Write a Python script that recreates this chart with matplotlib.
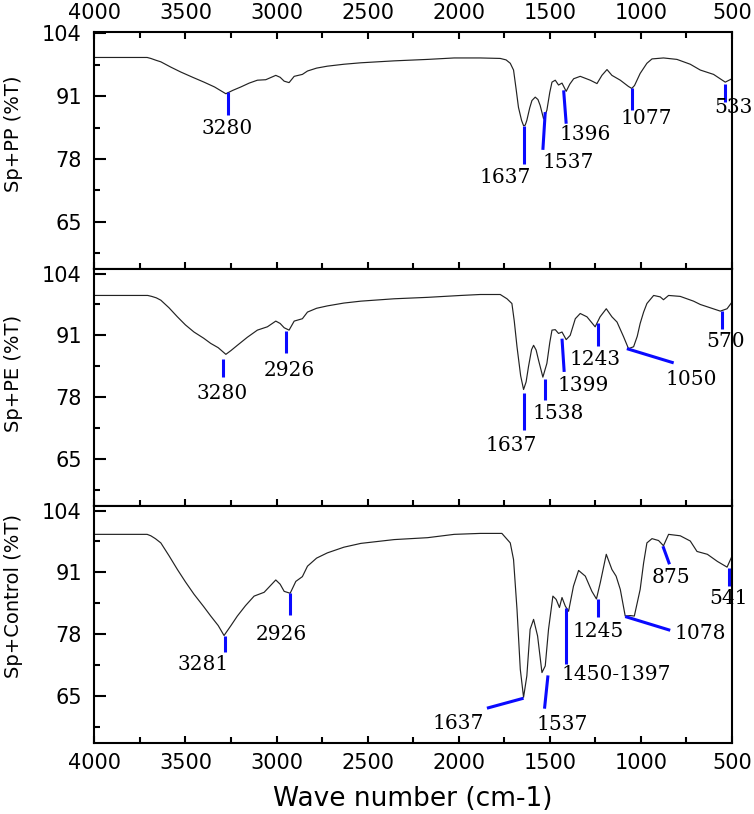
import matplotlib
matplotlib.use("Agg")
import matplotlib.pyplot as plt
from matplotlib.ticker import MultipleLocator, FixedLocator

# spectra (wavenumber cm-1, transmittance %)
pp_wn = [4000, 3710, 3690, 3660, 3635, 3580, 3526, 3460, 3398, 3340, 3278, 3240, 3196, 3150,
         3105, 3059, 3004, 2980, 2958, 2931, 2903, 2858, 2830, 2780, 2721, 2630, 2537, 2354,
         2171, 2025, 1882, 1772, 1740, 1717, 1699, 1685, 1672, 1655, 1644, 1635, 1626, 1610,
         1598, 1580, 1565, 1553, 1534, 1516, 1500, 1488, 1470, 1452, 1433, 1410, 1390, 1369,
         1333, 1278, 1241, 1214, 1186, 1159, 1113, 1068, 1050, 1035, 1004, 967, 939, 876, 802,
         729, 674, 601, 537, 500]
pp_t = [99.0, 99.0, 98.8, 98.4, 98.1, 97.0, 96.0, 94.9, 93.9, 92.9, 91.5, 92.2, 92.9, 93.7,
        94.3, 94.4, 95.3, 94.9, 94.1, 93.8, 95.1, 95.5, 96.2, 96.8, 97.2, 97.6, 97.9, 98.3,
        98.6, 98.9, 98.9, 98.8, 98.5, 97.8, 96.4, 92.5, 88.7, 86.0, 84.9, 85.0, 86.0, 88.6,
        90.1, 90.8, 90.3, 89.1, 86.3, 88.1, 91.8, 93.9, 94.3, 93.3, 93.7, 92.0, 93.5, 94.6,
        95.1, 94.3, 93.6, 95.3, 96.5, 95.3, 94.3, 93.0, 92.6, 93.2, 95.7, 97.8, 98.7, 98.9, 98.6,
        97.6, 96.4, 95.5, 93.9, 94.6]

pe_wn = [4000, 3707, 3685, 3660, 3635, 3590, 3544, 3500, 3453, 3400, 3361, 3320, 3278, 3250,
         3215, 3160, 3105, 3050, 3004, 2980, 2958, 2931, 2903, 2858, 2830, 2780, 2721, 2630,
         2537, 2354, 2171, 1988, 1882, 1772, 1735, 1708, 1695, 1680, 1660, 1644, 1630, 1617,
         1600, 1589, 1575, 1562, 1538, 1516, 1500, 1488, 1470, 1452, 1433, 1410, 1388, 1360,
         1333, 1296, 1251, 1224, 1190, 1159, 1131, 1095, 1068, 1040, 1020, 1004, 985, 967, 930,
         894, 876, 848, 784, 711, 674, 619, 564, 527, 500]
pe_t = [99.4, 99.4, 99.2, 98.9, 98.4, 96.8, 94.9, 93.2, 91.7, 90.4, 89.3, 88.4, 87.0, 87.8,
        88.9, 90.6, 92.1, 92.8, 94.0, 93.5, 92.6, 92.1, 94.0, 94.5, 95.9, 96.7, 97.2, 97.8,
        98.2, 98.7, 99.0, 99.4, 99.6, 99.6, 98.7, 97.7, 94.0, 88.6, 82.5, 79.6, 81.2, 84.4,
        88.0, 88.9, 87.9, 85.8, 82.2, 85.1, 89.5, 92.1, 92.2, 91.4, 91.7, 90.1, 91.0, 94.5,
        95.6, 94.9, 92.8, 94.9, 96.6, 94.9, 93.8, 90.7, 88.2, 88.6, 90.8, 93.5, 95.9, 97.7, 99.4,
        99.1, 98.5, 99.4, 99.2, 98.2, 97.5, 96.8, 96.1, 96.6, 98.0]

ctrl_wn = [4000, 3710, 3690, 3665, 3635, 3590, 3544, 3500, 3453, 3400, 3361, 3320, 3288, 3250,
           3215, 3170, 3123, 3068, 3004, 2980, 2958, 2925, 2894, 2858, 2830, 2780, 2721, 2630,
           2537, 2354, 2171, 2025, 1882, 1763, 1717, 1699, 1680, 1662, 1644, 1626, 1608, 1589,
           1567, 1543, 1525, 1507, 1483, 1465, 1447, 1433, 1415, 1397, 1370, 1342, 1305, 1269,
           1244, 1223, 1190, 1159, 1136, 1113, 1086, 1058, 1036, 1004, 985, 967, 939, 903, 876,
           848, 784, 729, 692, 635, 580, 527, 500]
ctrl_t = [99.0, 99.0, 98.7, 98.1, 97.2, 94.5, 91.6, 89.0, 86.4, 83.8, 81.8, 79.8, 77.7, 79.8,
          81.8, 84.0, 86.0, 86.8, 89.4, 88.5, 87.0, 86.6, 89.1, 90.1, 92.3, 94.0, 95.1, 96.3,
          97.1, 97.9, 98.3, 99.0, 99.2, 99.2, 97.2, 93.7, 83.2, 70.6, 64.7, 69.2, 79.0, 81.1,
          77.6, 69.9, 71.3, 79.0, 86.0, 85.3, 83.6, 85.7, 83.9, 82.8, 88.1, 91.4, 90.2, 87.0,
          85.4, 88.8, 94.8, 91.6, 90.2, 87.4, 81.8, 81.9, 81.8, 87.4, 93.0, 97.2, 98.1, 97.7, 96.6,
          99.0, 98.7, 97.6, 95.4, 94.8, 93.3, 92.1, 94.4]

ylabels = ["Sp+PP (%T)", "Sp+PE (%T)", "Sp+Control (%T)"]
yticks = [65, 78, 91, 104]

# peak labels: text, line start, line end, text centre
pp_peaks = [("3280", (3267, 91.9), (3267, 87.2), (3270, 84.4)),
            ("1637", (1644, 84.9), (1644, 77.0), (1745, 74.1)),
            ("1537", (1525, 87.7), (1538, 79.9), (1400, 77.3)),
            ("1396", (1424, 92.2), (1410, 85.3), (1305, 83.0)),
            ("1077", (1049, 92.7), (1049, 88.1), (969, 86.3)),
            ("533", (540, 93.6), (540, 89.7), (493, 88.7))]
pe_peaks = [("3280", (3292, 86.1), (3292, 82.3), (3296, 78.8)),
            ("2926", (2947, 91.9), (2947, 87.2), (2930, 83.7)),
            ("1637", (1644, 78.9), (1644, 71.1), (1713, 67.9)),
            ("1538", (1525, 81.9), (1525, 77.4), (1455, 74.6)),
            ("1399", (1433, 90.3), (1421, 83.3), (1315, 80.5)),
            ("1243", (1238, 93.5), (1238, 88.8), (1251, 86.0)),
            ("1050", (1077, 88.2), (820, 85.2), (726, 81.6)),
            ("570", (555, 96.1), (555, 92.4), (534, 89.8))]
ctrl_peaks = [("3281", (3282, 77.6), (3282, 74.3), (3405, 71.6)),
              ("2926", (2925, 86.7), (2925, 82.0), (2976, 78.0)),
              ("1637", (1644, 64.5), (1845, 62.4), (2001, 59.2)),
              ("1537", (1510, 69.3), (1529, 62.3), (1434, 59.0)),
              ("1450-1397", (1410, 83.6), (1410, 71.8), (1136, 69.5)),
              ("1245", (1236, 85.3), (1236, 81.5), (1234, 78.6)),
              ("1078", (1086, 81.7), (839, 78.8), (674, 78.2)),
              ("875", (879, 96.5), (843, 92.7), (836, 89.9)),
              ("541", (519, 92.0), (519, 88.1), (519, 85.4))]

plt.rcParams["font.family"] = "DejaVu Sans"


def draw_panel(ax, wn, t, peaks, ylabel, ylim, label_y):
    ax.plot(wn, t, color="#222222", lw=0.85)
    for text, p1, p2, pt in peaks:
        ax.plot([p1[0], p2[0]], [p1[1], p2[1]], color="#0a0aff", lw=2.2,
                solid_capstyle="butt")
        ax.text(pt[0], pt[1], text, ha="center", va="center", fontsize=14.5,
                family="DejaVu Serif", clip_on=False)
    ax.set_xlim(4000, 500)
    ax.set_ylim(*ylim)
    ax.xaxis.set_major_locator(MultipleLocator(500))
    ax.xaxis.set_minor_locator(MultipleLocator(250))
    ax.yaxis.set_major_locator(FixedLocator(yticks))
    ax.yaxis.set_minor_locator(FixedLocator([58.5, 71.5, 84.5, 97.5]))
    ax.tick_params(axis="y", which="both", direction="in", left=True, right=False,
                   labelsize=15, pad=9, width=1.5)
    ax.tick_params(axis="y", which="major", length=8.5)
    ax.tick_params(axis="y", which="minor", length=4.5)
    ax.tick_params(axis="x", which="both", direction="in", labelsize=15, pad=7, width=1.5)
    ax.tick_params(axis="x", which="major", length=5)
    ax.tick_params(axis="x", which="minor", length=4)
    for s in ax.spines.values():
        s.set_linewidth(1.5)
    ax.set_ylabel(ylabel, fontsize=14)
    ax.yaxis.set_label_coords(-0.112, label_y)


fig, axes = plt.subplots(3, 1, figsize=(7.54, 8.14), dpi=100)
fig.subplots_adjust(left=0.1251, right=0.9708, top=0.9603, bottom=0.0868, hspace=0)

draw_panel(axes[0], pp_wn, pp_t, pp_peaks, ylabels[0], (55.2, 104.2), 0.57)
draw_panel(axes[1], pe_wn, pe_t, pe_peaks, ylabels[1], (55.0, 104.9), 0.56)
draw_panel(axes[2], ctrl_wn, ctrl_t, ctrl_peaks, ylabels[2], (55.0, 104.9), 0.62)

# top panel: ticks both sides, labels on top
axes[0].tick_params(axis="x", which="both", top=True, bottom=True,
                    labeltop=True, labelbottom=False)
axes[1].tick_params(axis="x", which="both", top=False, bottom=True, labelbottom=False)
axes[2].tick_params(axis="x", which="both", top=False, bottom=True, labelbottom=True)

axes[2].set_xlabel("Wave number (cm-1)", fontsize=19)
axes[2].xaxis.set_label_coords(0.5, -0.18)

fig.savefig("out.png", dpi=100)
